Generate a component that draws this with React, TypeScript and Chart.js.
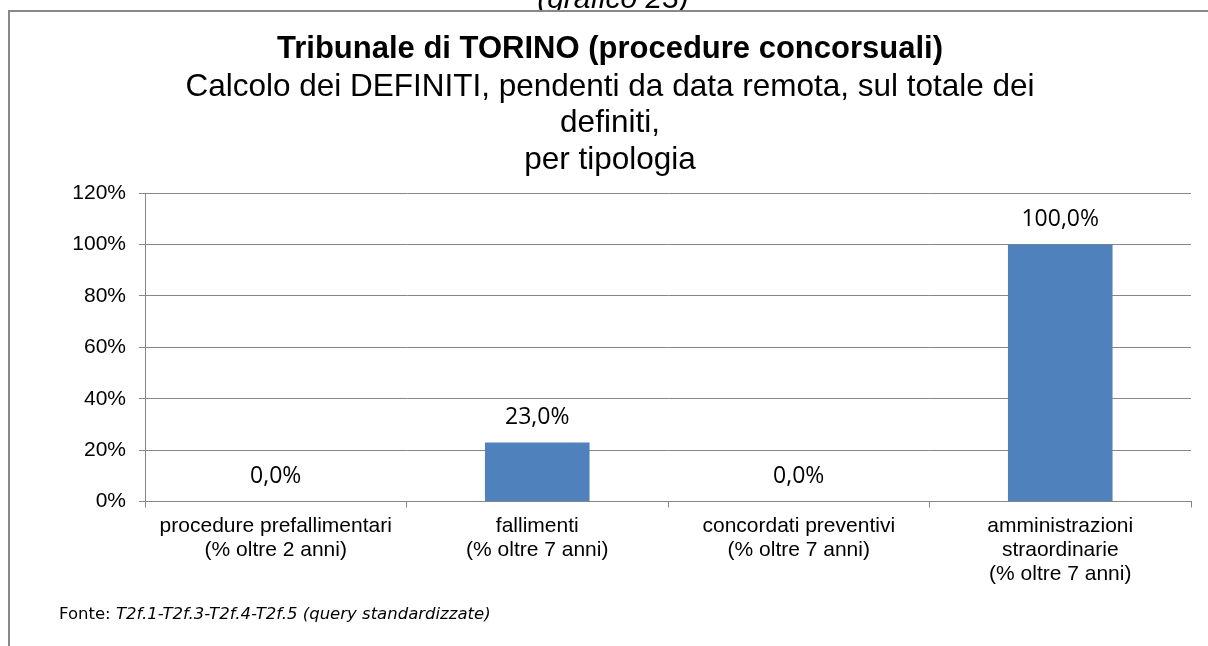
import React, { useEffect, useRef } from "react";
import { Chart, registerables } from "chart.js";

Chart.register(...registerables);

const categories: string[][] = [
  ["procedure prefallimentari", "(% oltre 2 anni)"],
  ["fallimenti", "(% oltre 7 anni)"],
  ["concordati preventivi", "(% oltre 7 anni)"],
  ["amministrazioni", "straordinarie", "(% oltre 7 anni)"],
];
const values: number[] = [0.0, 23.0, 0.0, 100.0];
const yTicks: number[] = [0, 20, 40, 60, 80, 100, 120];
const titleText = "Tribunale di TORINO (procedure concorsuali)";
const subtitleLines: string[] = [
  "Calcolo dei DEFINITI, pendenti da data remota, sul totale dei",
  "definiti,",
  "per tipologia",
];
const topNote = "(grafico 23)";
const sourceLabel = "Fonte: ";
const sourceText = "T2f.1-T2f.3-T2f.4-T2f.5 (query standardizzate)";

const W = 1208;
const H = 646;
const ARIAL = "'Liberation Sans', Arial, sans-serif";
const GRID = "#868686";

const framePlugin = {
  id: "frame",
  beforeDraw(chart: any) {
    const ctx = chart.ctx;
    ctx.save();
    ctx.font = `italic 30px ${ARIAL}`;
    ctx.textAlign = "center";
    ctx.textBaseline = "alphabetic";
    ctx.fillStyle = "#000";
    ctx.fillText(topNote, 613, 8);
    ctx.fillStyle = "#fff";
    ctx.fillRect(8, 10, W, H);
    ctx.fillStyle = "#888888";
    ctx.fillRect(8, 10, 2, H);
    ctx.fillRect(8, 10, W, 2);
    ctx.restore();
  },
  afterDraw(chart: any) {
    const ctx = chart.ctx;
    ctx.save();
    ctx.fillStyle = "#000";
    ctx.textAlign = "left";
    ctx.textBaseline = "alphabetic";
    ctx.font = "16.5px 'DejaVu Sans', Verdana, sans-serif";
    const w = ctx.measureText(sourceLabel).width;
    ctx.fillText(sourceLabel, 59, 619);
    ctx.font = "italic 16.5px 'DejaVu Sans', Verdana, sans-serif";
    ctx.fillText(sourceText, 59 + w, 619);
    ctx.restore();
  },
};

const dataLabelPlugin = {
  id: "dataLabels",
  afterDatasetsDraw(chart: any) {
    const ctx = chart.ctx;
    const meta = chart.getDatasetMeta(0);
    ctx.save();
    ctx.font = "23px 'Open Sans', sans-serif";
    ctx.fillStyle = "#000";
    ctx.textAlign = "center";
    ctx.textBaseline = "alphabetic";
    meta.data.forEach((el: any, i: number) => {
      const v = values[i];
      const txt = v.toFixed(1).replace(".", ",") + "%";
      ctx.fillText(txt, el.x, el.y - 18.5);
    });
    ctx.restore();
  },
};

export default function App() {
  const ref = useRef<HTMLCanvasElement | null>(null);

  useEffect(() => {
    if (!ref.current) return;
    const chart = new Chart(ref.current, {
      type: "bar",
      data: {
        labels: categories,
        datasets: [
          {
            data: values,
            backgroundColor: "#4F81BD",
            borderWidth: 0,
            barPercentage: 0.4,
            categoryPercentage: 1.0,
          },
        ],
      },
      options: {
        responsive: false,
        maintainAspectRatio: false,
        animation: false,
        events: [],
        layout: { padding: { top: 30.7, left: 29, right: 17, bottom: 53 } },
        plugins: {
          legend: { display: false },
          tooltip: { enabled: false },
          title: {
            display: true,
            text: titleText,
            color: "#000",
            font: { family: ARIAL, size: 31, weight: "bold", lineHeight: 1.2 },
            padding: { top: 0, bottom: 0.95 },
          },
          subtitle: {
            display: true,
            text: subtitleLines,
            color: "#000",
            font: { family: ARIAL, size: 31.5, weight: "normal", lineHeight: 1.159 },
            padding: { top: 0, bottom: 14.65 },
          },
        },
        scales: {
          x: {
            offset: true,
            grid: {
              offset: true,
              drawOnChartArea: false,
              drawTicks: true,
              tickLength: 6,
              color: GRID,
              lineWidth: 1,
            },
            border: { display: true, color: GRID, width: 1 },
            ticks: {
              color: "#000",
              padding: 6.5,
              maxRotation: 0,
              autoSkip: false,
              font: { family: ARIAL, size: 21, lineHeight: 1.15 },
            },
          },
          y: {
            min: 0,
            max: 120,
            afterFit(scale: any) {
              scale.width = 116;
            },
            afterBuildTicks(scale: any) {
              scale.ticks = yTicks.map((v) => ({ value: v }));
            },
            grid: {
              color: GRID,
              lineWidth: 1,
              drawTicks: true,
              tickLength: 6,
            },
            border: { display: true, color: GRID, width: 1 },
            ticks: {
              color: "#000",
              padding: 13,
              font: { family: ARIAL, size: 21 },
              callback: (v: any) => `${v}%`,
            },
          },
        },
      },
      plugins: [framePlugin, dataLabelPlugin],
    });
    return () => chart.destroy();
  }, []);

  return (
    <div style={{ position: "fixed", left: 0, top: 0, width: W, height: H, background: "#fff" }}>
      <canvas ref={ref} width={W} height={H} style={{ display: "block", width: W, height: H }} />
    </div>
  );
}
